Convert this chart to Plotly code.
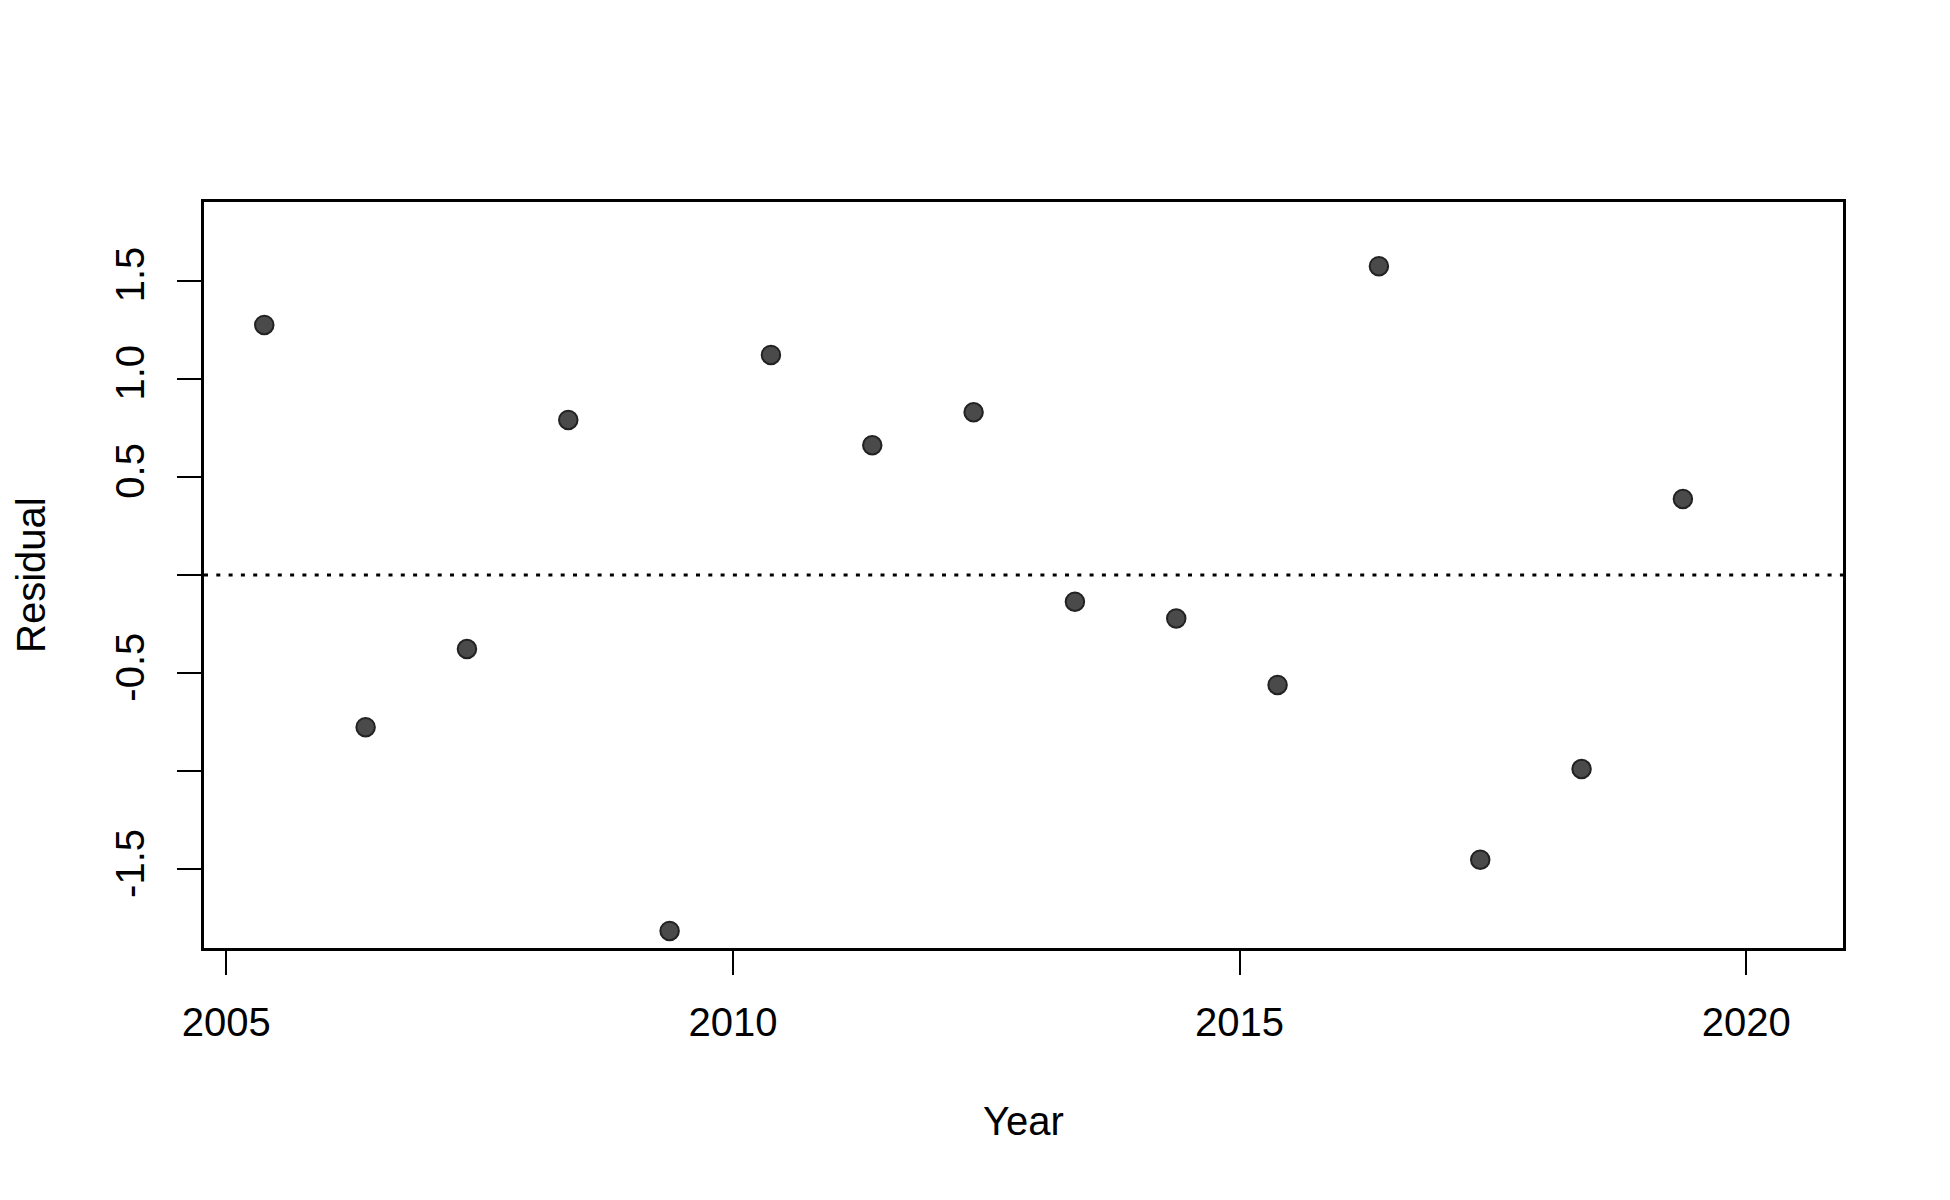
import plotly.graph_objects as go

# residuals by year (points sit a bit after each year mark)
years = [2005.375, 2006.375, 2007.375, 2008.375, 2009.375, 2010.375, 2011.375,
         2012.375, 2013.375, 2014.375, 2015.375, 2016.375, 2017.375, 2018.375, 2019.375]
residuals = [1.274, -0.775, -0.377, 0.790, -1.813, 1.121, 0.661,
             0.829, -0.136, -0.221, -0.560, 1.573, -1.450, -0.988, 0.387]

x_ticks = [2005, 2010, 2015, 2020]
x_labels = ['2005', '2010', '2015', '2020']
y_ticks = [-1.5, -1.0, -0.5, 0.0, 0.5, 1.0, 1.5]
y_labels = ['-1.5', '', '-0.5', '', '0.5', '1.0', '1.5']

FONT = 'Liberation Sans, Arial, sans-serif'

fig = go.Figure()

fig.add_trace(go.Scatter(
    x=years, y=residuals, mode='markers',
    marker=dict(size=18.5, color='#4a4a4a', line=dict(color='#222222', width=2)),
    showlegend=False, hoverinfo='x+y'
))

# dotted reference line at zero
fig.add_shape(type='line', xref='paper', yref='y', x0=0, x1=1, y0=0, y1=0,
              line=dict(color='black', width=2.8, dash='4px,8.3px'))

fig.add_annotation(text='Year', xref='paper', yref='paper', x=0.5, y=0,
                   xanchor='center', yanchor='middle', yshift=-173, showarrow=False,
                   font=dict(family=FONT, size=40, color='black'))
fig.add_annotation(text='Residual', xref='paper', yref='paper', x=0, y=0.5,
                   xanchor='center', yanchor='middle', xshift=-173, textangle=-90,
                   showarrow=False, font=dict(family=FONT, size=40, color='black'))

# page has an 8px body margin, so margins are trimmed to land the box where R put it
fig.update_layout(
    width=1950, height=1200,
    margin=dict(l=196, r=115, t=194, b=260),
    paper_bgcolor='white', plot_bgcolor='white',
    font=dict(family=FONT, size=40, color='black'),
    xaxis=dict(range=[2004.780, 2020.955], tickvals=x_ticks, ticktext=x_labels,
               showgrid=False, zeroline=False, showline=True, mirror=True,
               linecolor='black', linewidth=3, ticks='outside', ticklen=24,
               tickwidth=2, tickcolor='black', ticklabelstandoff=13),
    yaxis=dict(range=[-1.9, 1.9], tickvals=y_ticks, ticktext=y_labels,
               tickangle=-90, showgrid=False, zeroline=False, showline=True,
               mirror=True, linecolor='black', linewidth=3, ticks='outside',
               ticklen=24, tickwidth=2, tickcolor='black', ticklabelstandoff=17),
)

fig.write_html('out.html')
